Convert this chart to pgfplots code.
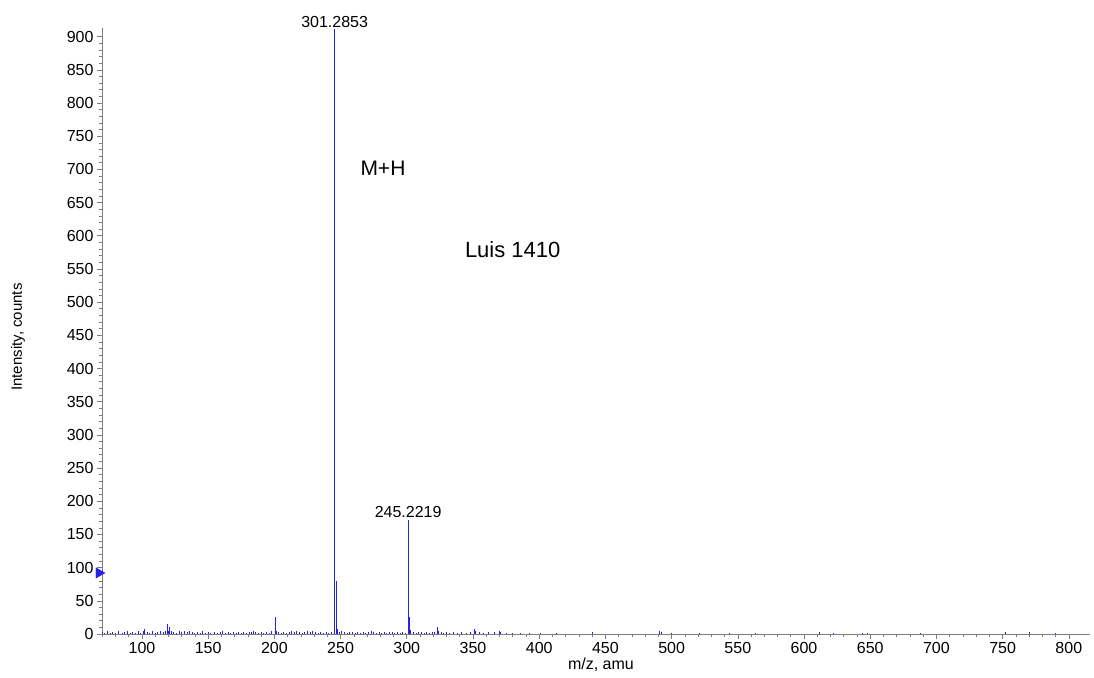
\documentclass[border=0pt]{standalone}
\usepackage{fontspec}
\setmainfont{Liberation Sans}
\usepackage{pgfplots}
\pgfplotsset{compat=1.18}
\definecolor{spec}{RGB}{35,35,225}
\definecolor{axgray}{RGB}{125,125,125}
\begin{document}
\begin{tikzpicture}
\path[use as bounding box] (-102pt,-43pt) rectangle (992pt,634pt);
\begin{axis}[
  at={(0pt,0pt)}, anchor=south west,
  scale only axis, width=988pt, height=606pt,
  xmin=69.8, xmax=816, ymin=0, ymax=913,
  axis lines*=left,
  axis line style={axgray, line width=0.8pt, -},
  xtick distance=50, ytick distance=50,
  minor x tick num=4, minor y tick num=4,
  tick align=outside, major tick length=5pt, minor tick length=3pt,
  every tick/.style={axgray, line width=0.6pt},
  ticklabel style={font=\fontsize{16}{18}\selectfont, text=black},
  /pgf/number format/assume math mode=true,
  /pgf/number format/1000 sep={},
  xlabel={m/z, amu}, ylabel={Intensity, counts},
  x label style={at={(axis description cs:0.505,0)}, anchor=center, yshift=-31pt, font=\fontsize{16}{18}\selectfont},
  y label style={at={([xshift=-84pt]axis description cs:0,0.49)}, anchor=center, font=\fontsize{15}{18}\selectfont},
  clip=false,
]
\addplot[ycomb, color=spec, line width=0.9pt, mark=none] coordinates {
(70,3)(72,2)(74,4)(76,2)(78,3)(80,2)(82,4)(85,2)(87,3)(89,4)(91,2)(93,3)(95,2)(97,4)(99,2)(101,4)(102,7)(104,3)(106,2)(108,4)(110,2)(112,3)(114,4)(116,3)(118,4)(119,15)(120,5)(121,11)(122,4)(124,3)(126,2)(128,4)(130,3)(132,4)(134,3)(136,4)(138,3)(140,2)(142,3)(144,2)(146,4)(148,2)(150,3)(152,2)(155,3)(157,2)(159,3)(161,4)(163,2)(165,3)(167,2)(169,3)(171,2)(173,3)(175,2)(177,3)(179,2)(181,3)(183,3)(184,5)(186,3)(188,2)(190,3)(192,2)(194,3)(196,2)(198,4)(200.5,25)(201.5,5)(203,3)(205,2)(207,3)(209,2)(211,3)(213,4)(215,3)(217,4)(219,3)(221,2)(223,3)(225,4)(227,3)(229,4)(231,3)(233,2)(235,3)(237,2)(239,3)(241,2)(243,3)
(245.5,912)(246.5,80)(247.4,7)(249,3)(251,4)(253,3)(255,2)(257,3)(259,3)(261,2)(263,3)(265,2)(267,3)(269,2)(271,3)(273,4)(275,3)(277,2)(279,3)(281,2)(283,3)(285,2)(287,3)(289,3)(291,2)(293,3)(295,2)(297,3)(299,2)
(301,172)(302,25)(303,6)(305,3)(307,2)(309,3)(311,3)(313,2)(315,3)(317,2)(319,3)(321,3)(323,10)(324,4)(326,3)(328,2)(330,3)(332,2)(335,3)(338,2)(341,3)(345,2)(348,3)(351,8)(352,4)(355,3)(358,2)(362,3)(366,3)(370,4)(371,3)(375,2)(380,2)(386,2)(393,2)(401,2)(413,2)(440,3)(491,5)(492,3)(500,2)(521,2)(544,2)(563,2)(612,3)(622,2)(644,2)(648,2)(688,2)(752,3)(770,3)(790,2)
};
\addplot[only marks, mark=triangle*, mark size=6pt, mark options={rotate=-90, fill=spec, draw=spec}] coordinates {(67.5,92)};
\node[anchor=south, font=\fontsize{16}{18}\selectfont, inner sep=1pt] at (axis cs:245.5,912) {301.2853};
\node[anchor=south, font=\fontsize{16}{18}\selectfont, inner sep=2pt] at (axis cs:301,172) {245.2219};
\node[font=\fontsize{21}{24}\selectfont] at (axis cs:282,702) {M+H};
\node[font=\fontsize{22}{26}\selectfont] at (axis cs:380,579) {Luis 1410};
\end{axis}
\end{tikzpicture}
\end{document}
